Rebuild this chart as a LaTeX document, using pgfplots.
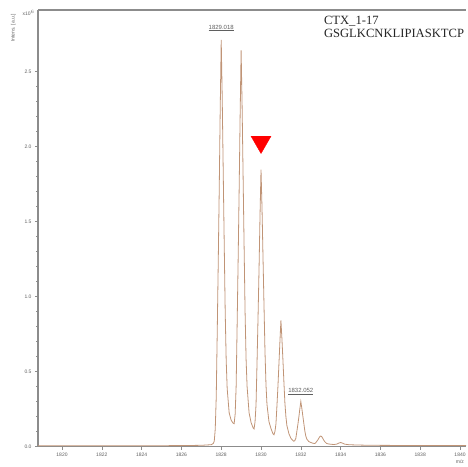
\documentclass[border=0pt]{standalone}
\usepackage{pgfplots}
\pgfplotsset{compat=1.18}
\usepackage{fontspec}
\setmainfont{Liberation Sans}
\newfontfamily\seriffont{Liberation Serif}
\definecolor{spec}{RGB}{192,148,118}
\definecolor{axgray}{RGB}{140,140,140}
\definecolor{labgray}{RGB}{95,95,95}
\begin{document}
\begin{tikzpicture}[x=1pt,y=1pt]
\useasboundingbox (0,0) rectangle (468,466);
\begin{axis}[
  at={(38pt,19.5pt)}, anchor=south west,
  scale only axis, width=428pt, height=436.5pt,
  xmin=1818.794, xmax=1840.3, ymin=0, ymax=2.91,
  axis x line*=bottom, axis y line*=left,
  axis line style={axgray, line width=1.1pt},
  xtick={1820,1822,...,1840}, minor x tick num=1,
  ytick={0,0.5,1.0,1.5,2.0,2.5}, minor y tick num=4,
  tick align=outside,
  major tick length=3pt, minor tick length=2pt,
  tick style={axgray, line width=0.6pt},
  xticklabel style={font=\fontsize{5}{5.5}\selectfont, text=labgray},
  yticklabel style={font=\fontsize{5}{5.5}\selectfont, text=labgray},
  /pgf/number format/assume math mode=true,
  x tick label style={/pgf/number format/.cd, 1000 sep={}},
  y tick label style={/pgf/number format/.cd, fixed, fixed zerofill, precision=1},
  clip=false,
]
\addplot[spec, line width=0.8pt] coordinates {
(1818.794,0.005) (1824.0,0.005) (1826.0,0.006) (1827.0,0.008) (1827.5,0.012)
(1827.6,0.02) (1827.65,0.035) (1827.70,0.116) (1827.75,0.33) (1827.80,0.76)
(1827.85,1.22) (1827.90,1.71) (1827.95,2.25) (1828.00,2.71) (1828.05,2.33)
(1828.10,1.84) (1828.15,1.36) (1828.20,0.90) (1828.25,0.575) (1828.30,0.385)
(1828.40,0.224) (1828.50,0.175) (1828.60,0.155) (1828.65,0.152) (1828.70,0.215)
(1828.75,0.40) (1828.80,0.81) (1828.85,1.24) (1828.90,1.70) (1828.95,2.20)
(1829.00,2.64) (1829.05,2.27) (1829.10,1.80) (1829.15,1.335) (1829.20,0.89)
(1829.25,0.58) (1829.30,0.40) (1829.40,0.225) (1829.50,0.16) (1829.60,0.125)
(1829.65,0.117) (1829.70,0.165)
(1829.75,0.28) (1829.80,0.56) (1829.85,0.86) (1829.90,1.18) (1829.95,1.54)
(1830.00,1.845) (1830.05,1.59) (1830.10,1.26) (1830.15,0.94) (1830.20,0.63)
(1830.25,0.41) (1830.30,0.28) (1830.40,0.165) (1830.50,0.12) (1830.60,0.085)
(1830.65,0.078) (1830.70,0.10)
(1830.75,0.15) (1830.80,0.27) (1830.85,0.40) (1830.90,0.55) (1830.95,0.70)
(1831.00,0.84) (1831.05,0.72) (1831.10,0.58) (1831.15,0.43) (1831.20,0.29)
(1831.25,0.20) (1831.30,0.14) (1831.40,0.086) (1831.50,0.055) (1831.60,0.04)
(1831.65,0.035) (1831.70,0.04)
(1831.75,0.055) (1831.80,0.10) (1831.85,0.145) (1831.90,0.195) (1831.95,0.25)
(1832.00,0.30) (1832.05,0.255) (1832.10,0.205) (1832.15,0.155) (1832.20,0.105)
(1832.25,0.07) (1832.30,0.05) (1832.40,0.033) (1832.50,0.027) (1832.60,0.022)
(1832.70,0.02)
(1832.75,0.025) (1832.80,0.034) (1832.85,0.043) (1832.90,0.054) (1832.95,0.065)
(1833.00,0.07) (1833.05,0.066) (1833.10,0.055) (1833.15,0.043) (1833.20,0.033)
(1833.30,0.02) (1833.40,0.017) (1833.50,0.015) (1833.60,0.014) (1833.70,0.014)
(1833.80,0.016) (1833.90,0.022) (1834.00,0.027) (1834.10,0.022) (1834.20,0.016)
(1834.40,0.012) (1834.80,0.01) (1835.5,0.008) (1837.0,0.007) (1840.3,0.007)
};
\addplot[only marks, mark=triangle*, mark size=11.5pt,
  mark options={rotate=180, fill=red, draw=red}] coordinates {(1830.0,2.03)};
\node[font=\fontsize{6}{6}\selectfont, text=labgray] at (axis cs:1828.0,2.79) {\underline{1829.018}};
\node[font=\fontsize{6}{6}\selectfont, text=labgray] at (axis cs:1832.0,0.365) {\underline{1832.052}};
\draw[axgray, line width=1.1pt] (rel axis cs:0,1) -- (rel axis cs:1,1);
\end{axis}
\node[font=\fontsize{5}{5.5}\selectfont, text=labgray] at (28.5,452.7) {x10$^6$};
\node[font=\fontsize{5}{5.5}\selectfont, text=labgray, rotate=90] at (13.3,438) {Intens. [a.u.]};
\node[font=\fontsize{5}{5.5}\selectfont, text=labgray, anchor=east] at (467.5,4.5) {m/z};
\node[font=\seriffont\fontsize{12.6}{12.5}\selectfont, anchor=base west, text=black!85] at (320.5,441) {CTX\_1-17};
\node[font=\seriffont\fontsize{12.6}{12.5}\selectfont, anchor=base west, text=black!85] at (320.5,428.7) {GSGLKCNKLIPIASKTCP};
\end{tikzpicture}
\end{document}
